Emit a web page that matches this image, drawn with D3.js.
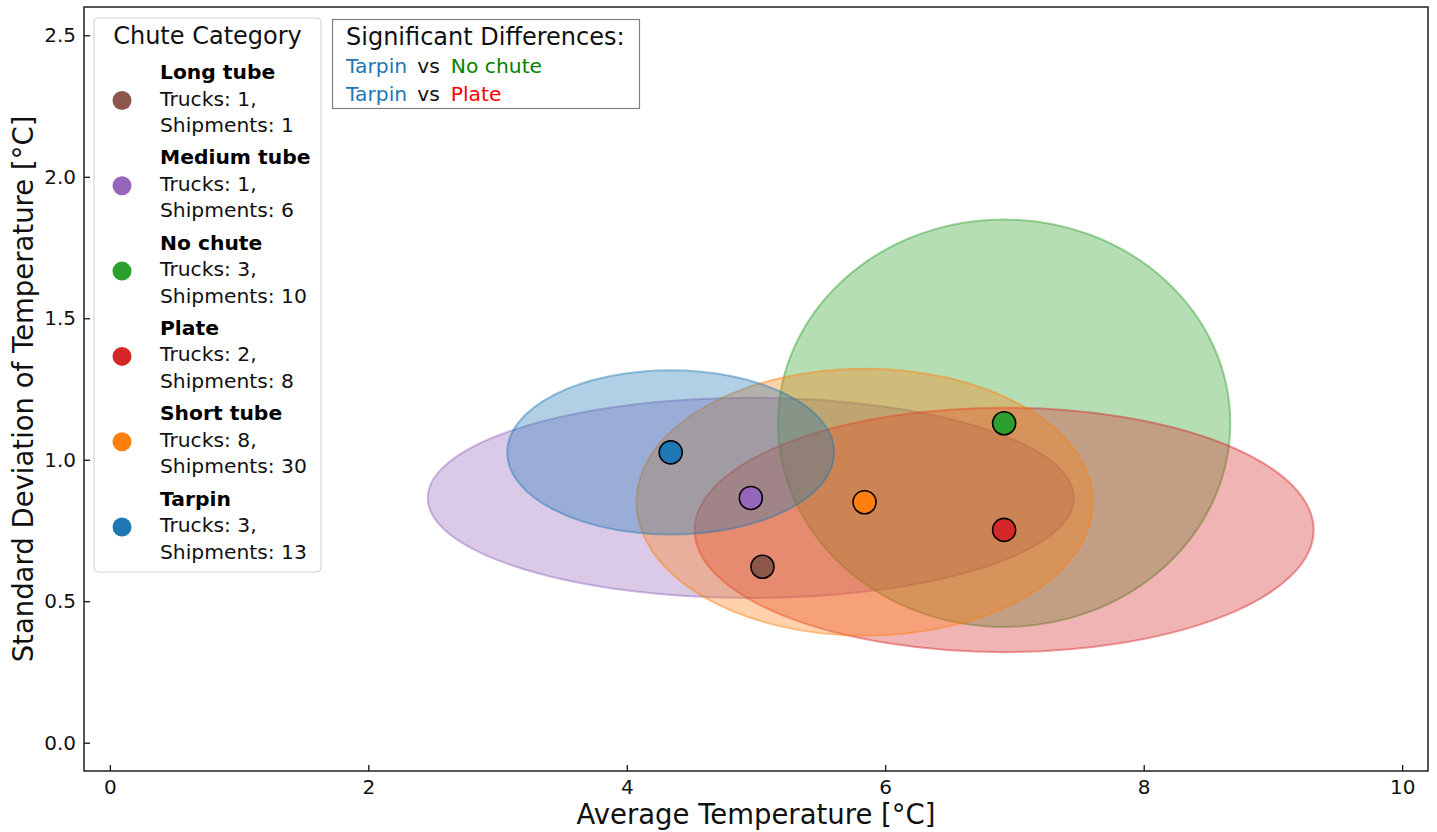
<!DOCTYPE html>
<html>
<head>
<meta charset="utf-8">
<script src="https://cdn.jsdelivr.net/npm/d3@7/dist/d3.min.js"></script>
<style>
  html, body { margin: 0; padding: 0; background: #fff; }
  svg { display: block; font-family: "DejaVu Sans", sans-serif; }
</style>
</head>
<body>
<svg id="chart" width="1437" height="832"></svg>
<script>
// ---- data ----
const categories = ["Long tube", "Medium tube", "No chute", "Plate", "Short tube", "Tarpin"];
const colors = ["#8c564b", "#9467bd", "#2ca02c", "#d62728", "#ff7f0e", "#1f77b4"];
const avgTemp = [5.05, 4.96, 6.92, 6.92, 5.84, 4.34];
const stdTemp = [0.622, 0.865, 1.129, 0.752, 0.85, 1.026];
const spreadX = [0, 2.50, 1.75, 2.395, 1.765, 1.265];
const spreadY = [0, 0.354, 0.72, 0.432, 0.472, 0.29];
const trucks = [1, 1, 3, 2, 8, 3];
const shipments = [1, 6, 10, 8, 30, 13];
const xTicks = [0, 2, 4, 6, 8, 10];
const yTicks = [0, 0.5, 1.0, 1.5, 2.0, 2.5];
const sigPairs = [["Tarpin", "No chute"], ["Tarpin", "Plate"]];
const sigColors = {"Tarpin": "#1f77b4", "No chute": "#008000", "Plate": "#ff0000"};

// ---- layout ----
const W = 1437, H = 832;
const plot = {left: 84, right: 1428, top: 7, bottom: 771};
const svg = d3.select("#chart");

const x = d3.scaleLinear().domain([-0.2, 10.2]).range([plot.left, plot.right]);
const y = d3.scaleLinear().domain([-0.1, 2.6]).range([plot.bottom, plot.top]);

const rows = categories.map((c, i) => ({
  cat: c, color: colors[i], mx: avgTemp[i], my: stdTemp[i],
  rx: spreadX[i], ry: spreadY[i], trucks: trucks[i], ship: shipments[i]
}));

svg.append("defs").append("clipPath").attr("id", "clip")
  .append("rect").attr("x", plot.left).attr("y", plot.top)
  .attr("width", plot.right - plot.left).attr("height", plot.bottom - plot.top);

const g = svg.append("g").attr("clip-path", "url(#clip)");

// ellipses
g.selectAll("ellipse.spread").data(rows.filter(d => d.rx > 0 && d.ry > 0)).join("ellipse")
  .attr("class", "spread")
  .attr("cx", d => x(d.mx)).attr("cy", d => y(d.my))
  .attr("rx", d => x(d.mx + d.rx) - x(d.mx))
  .attr("ry", d => y(d.my) - y(d.my + d.ry))
  .attr("fill", d => d.color).attr("fill-opacity", 0.35)
  .attr("stroke", d => d.color).attr("stroke-opacity", 0.45).attr("stroke-width", 2);

// points
g.selectAll("circle.pt").data(rows).join("circle")
  .attr("class", "pt")
  .attr("cx", d => x(d.mx)).attr("cy", d => y(d.my))
  .attr("r", 11.5)
  .attr("fill", d => d.color)
  .attr("stroke", "#000").attr("stroke-width", 1.6);

// axes
const tickFont = 20;
const xAxis = d3.axisBottom(x).tickValues(xTicks).tickFormat(d3.format("d"))
  .tickSizeInner(-6).tickSizeOuter(0).tickPadding(9);
const yAxis = d3.axisLeft(y).tickValues(yTicks).tickFormat(d3.format(".1f"))
  .tickSizeInner(-6).tickSizeOuter(0).tickPadding(8);

const gx = svg.append("g").attr("transform", `translate(0,${plot.bottom})`).call(xAxis);
const gy = svg.append("g").attr("transform", `translate(${plot.left},0)`).call(yAxis);
[gx, gy].forEach(a => {
  a.select(".domain").remove();
  a.selectAll(".tick line").attr("stroke", "#000").attr("stroke-width", 1.2);
  a.selectAll(".tick text").attr("font-size", tickFont).attr("fill", "#111")
    .attr("font-family", "DejaVu Sans");
});

// frame
svg.append("rect").attr("x", plot.left).attr("y", plot.top)
  .attr("width", plot.right - plot.left).attr("height", plot.bottom - plot.top)
  .attr("fill", "none").attr("stroke", "#111").attr("stroke-width", 1.4);

// axis labels
svg.append("text").attr("x", (plot.left + plot.right) / 2).attr("y", 824)
  .attr("text-anchor", "middle").attr("font-size", 27.5).attr("fill", "#111")
  .text("Average Temperature [°C]");
svg.append("text").attr("transform", `translate(33,${(plot.top + plot.bottom) / 2}) rotate(-90)`)
  .attr("text-anchor", "middle").attr("font-size", 27.5).attr("fill", "#111")
  .text("Standard Deviation of Temperature [°C]");

// legend
const lg = svg.append("g");
lg.append("rect").attr("x", 94).attr("y", 18).attr("width", 227).attr("height", 554)
  .attr("rx", 4).attr("fill", "#fff").attr("fill-opacity", 0.85)
  .attr("stroke", "#d0d0d0").attr("stroke-width", 1);
lg.append("text").attr("x", 207.5).attr("y", 44).attr("text-anchor", "middle")
  .attr("font-size", 24).attr("fill", "#111").text("Chute Category");
const step = 85.3;
rows.forEach((d, i) => {
  const b = 79 + step * i;
  lg.append("circle").attr("cx", 122).attr("cy", b + 21.5).attr("r", 9.5).attr("fill", d.color);
  lg.append("text").attr("x", 160).attr("y", b).attr("font-size", 20.3)
    .attr("font-weight", "bold").attr("fill", "#000").text(d.cat);
  lg.append("text").attr("x", 160).attr("y", b + 26.5).attr("font-size", 20.3)
    .attr("fill", "#111").text(`Trucks: ${d.trucks},`);
  lg.append("text").attr("x", 160).attr("y", b + 53).attr("font-size", 20.3)
    .attr("fill", "#111").text(`Shipments: ${d.ship}`);
});

// significant differences box
const sg = svg.append("g");
sg.append("rect").attr("x", 332.5).attr("y", 19.5).attr("width", 307).attr("height", 89)
  .attr("fill", "#fff").attr("stroke", "#808080").attr("stroke-width", 1.2);
sg.append("text").attr("x", 346).attr("y", 45).attr("font-size", 24)
  .attr("fill", "#111").text("Significant Differences:");
sigPairs.forEach((p, i) => {
  const by = 73 + 28 * i;
  const t1 = sg.append("text").attr("x", 346).attr("y", by).attr("font-size", 20.3)
    .attr("fill", sigColors[p[0]]).text(p[0]);
  const x2 = 346 + t1.node().getComputedTextLength() + 10;
  const t2 = sg.append("text").attr("x", x2).attr("y", by).attr("font-size", 20.3)
    .attr("fill", "#111").text("vs");
  const x3 = x2 + t2.node().getComputedTextLength() + 11;
  sg.append("text").attr("x", x3).attr("y", by).attr("font-size", 20.3)
    .attr("fill", sigColors[p[1]]).text(p[1]);
});
</script>
</body>
</html>
